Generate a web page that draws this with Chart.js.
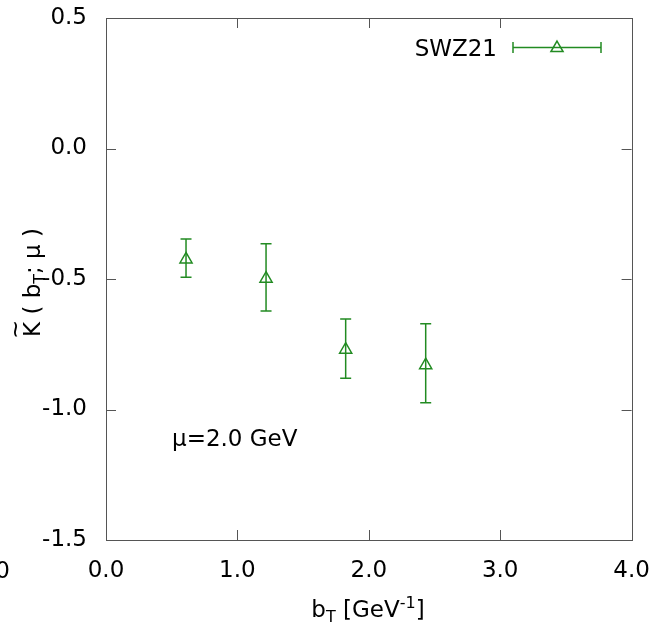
<!DOCTYPE html>
<html lang="en">
<head>
  <meta charset="UTF-8" />
  <title>SWZ21 | Collins-Soper kernel</title>
  <script src="https://cdn.jsdelivr.net/npm/chart.js@4.4.0/dist/chart.umd.min.js"></script>
  <style>
    * { margin: 0; padding: 0; box-sizing: border-box; }
    body { background: #fff; width: 651px; height: 626px; overflow: hidden; }
    #wrap { width: 651px; height: 626px; }
  </style>
</head>
<body>
  <div id="wrap"><canvas id="chart" width="651" height="626"></canvas></div>

  <script>
    // data
    const bT = [0.609, 1.218, 1.824, 2.433];
    const kernel = [-0.425, -0.499, -0.771, -0.830];
    const kernelHi = [-0.347, -0.365, -0.653, -0.671];
    const kernelLo = [-0.493, -0.623, -0.880, -0.974];
    const xTicks = [0, 1, 2, 3, 4];
    const yTicks = [-1.5, -1.0, -0.5, 0.0, 0.5];
    const seriesName = "SWZ21";
    const note = "μ=2.0 GeV";

    const green = "#228b22";
    const frameColor = "#555";
    const FONT = "'DejaVu Sans', sans-serif";

    // error bars (vertical) drawn from the data arrays via the scales
    const errorBars = {
      id: "errorBars",
      afterDatasetsDraw(chart) {
        const { ctx, scales: { x, y } } = chart;
        ctx.save();
        ctx.strokeStyle = green;
        ctx.lineWidth = 1.5;
        bT.forEach((v, i) => {
          const px = x.getPixelForValue(v);
          const top = y.getPixelForValue(kernelHi[i]);
          const bot = y.getPixelForValue(kernelLo[i]);
          ctx.beginPath();
          ctx.moveTo(px, top); ctx.lineTo(px, bot);
          ctx.moveTo(px - 5.5, top); ctx.lineTo(px + 5.5, top);
          ctx.moveTo(px - 5.5, bot); ctx.lineTo(px + 5.5, bot);
          ctx.stroke();
        });
        ctx.restore();
      }
    };

    // gnuplot style frame, inward mirrored ticks, titles, legend, note
    const decorations = {
      id: "decorations",
      afterDraw(chart) {
        const { ctx, chartArea: a, scales: { x, y } } = chart;
        ctx.save();
        ctx.strokeStyle = frameColor;
        ctx.lineWidth = 1;
        ctx.strokeRect(Math.round(a.left) + 0.5, Math.round(a.top) + 0.5,
          Math.round(a.right - a.left), Math.round(a.bottom - a.top));
        const tl = 10;
        ctx.beginPath();
        xTicks.forEach(v => {
          const px = Math.round(x.getPixelForValue(v)) + 0.5;
          ctx.moveTo(px, a.bottom); ctx.lineTo(px, a.bottom - tl);
          ctx.moveTo(px, a.top); ctx.lineTo(px, a.top + tl);
        });
        yTicks.forEach(v => {
          const py = Math.round(y.getPixelForValue(v)) + 0.5;
          ctx.moveTo(a.left, py); ctx.lineTo(a.left + tl, py);
          ctx.moveTo(a.right, py); ctx.lineTo(a.right - tl, py);
        });
        ctx.stroke();

        ctx.fillStyle = "#000";
        ctx.textBaseline = "alphabetic";
        const big = "23px " + FONT, small = "16px " + FONT;

        // clipped tick label from the neighbouring panel
        ctx.font = big;
        ctx.textAlign = "right";
        ctx.fillText("4.0", 10, 577.5);

        // x title: b_T [GeV^-1]
        ctx.textAlign = "left";
        const parts = [
          { t: "b", f: big, dy: 0 },
          { t: "T", f: small, dy: 5 },
          { t: " [GeV", f: big, dy: 0 },
          { t: "-1", f: small, dy: -9 },
          { t: "]", f: big, dy: 0 }
        ];
        let w = 0;
        parts.forEach(p => { ctx.font = p.f; p.w = ctx.measureText(p.t).width; w += p.w; });
        let cx = 368 - w / 2;
        parts.forEach(p => { ctx.font = p.f; ctx.fillText(p.t, cx, 617 + p.dy); cx += p.w; });

        // y title: K~( b_T; μ ) rotated
        ctx.save();
        ctx.translate(40, 337);
        ctx.rotate(-Math.PI / 2);
        const yparts = [
          { t: "K", f: big, dy: 0 },
          { t: " ( b", f: big, dy: 0 },
          { t: "T", f: small, dy: 5 },
          { t: "; μ )", f: big, dy: 0 }
        ];
        let tx = 0;
        yparts.forEach(p => {
          ctx.font = p.f;
          p.w = ctx.measureText(p.t).width;
          ctx.fillText(p.t, tx, p.dy);
          tx += p.w;
        });
        ctx.font = big;
        ctx.textAlign = "center";
        ctx.fillText("~", yparts[0].w / 2, -17);
        ctx.restore();

        // legend
        ctx.font = big;
        ctx.textAlign = "right";
        ctx.fillText(seriesName, 497, 56);
        ctx.strokeStyle = green;
        ctx.fillStyle = "rgba(0,0,0,0)";
        ctx.lineWidth = 1.5;
        ctx.beginPath();
        ctx.moveTo(513, 47.5); ctx.lineTo(601, 47.5);
        ctx.moveTo(513, 42); ctx.lineTo(513, 53);
        ctx.moveTo(601, 42); ctx.lineTo(601, 53);
        ctx.stroke();
        Chart.helpers.drawPoint(ctx, { pointStyle: "triangle", radius: 7, borderWidth: 1.5 }, 557, 48);

        // note
        ctx.fillStyle = "#000";
        ctx.textAlign = "left";
        ctx.fillText(note, 172, 445.5);
        ctx.restore();
      }
    };

    new Chart(document.getElementById("chart"), {
      type: "scatter",
      data: {
        datasets: [{
          label: seriesName,
          data: bT.map((v, i) => ({ x: v, y: kernel[i] })),
          pointStyle: "triangle",
          pointRadius: 7,
          pointHoverRadius: 7,
          pointBorderWidth: 1.5,
          borderColor: green,
          backgroundColor: "rgba(0,0,0,0)",
          showLine: false
        }]
      },
      options: {
        responsive: false,
        animation: false,
        devicePixelRatio: 1,
        layout: { padding: { top: 18, right: 19.4, left: 0, bottom: 0 } },
        plugins: { legend: { display: false }, tooltip: { enabled: false } },
        scales: {
          x: {
            type: "linear", min: 0, max: 4,
            afterBuildTicks: s => { s.ticks = xTicks.map(v => ({ value: v })); },
            afterFit: s => { s.height = 86; s.paddingLeft = 0; s.paddingRight = 0; },
            grid: { display: false },
            border: { display: false },
            ticks: {
              padding: 9, color: "#000",
              font: { family: "DejaVu Sans", size: 23 },
              callback: v => v.toFixed(1)
            }
          },
          y: {
            type: "linear", min: -1.5, max: 0.5,
            afterBuildTicks: s => { s.ticks = yTicks.map(v => ({ value: v })); },
            afterFit: s => { s.width = 106; s.paddingTop = 0; s.paddingBottom = 0; },
            grid: { display: false },
            border: { display: false },
            ticks: {
              padding: 11, color: "#000",
              font: { family: "DejaVu Sans", size: 23 },
              callback: v => v.toFixed(1)
            }
          }
        }
      },
      plugins: [errorBars, decorations]
    });
  </script>
</body>
</html>
